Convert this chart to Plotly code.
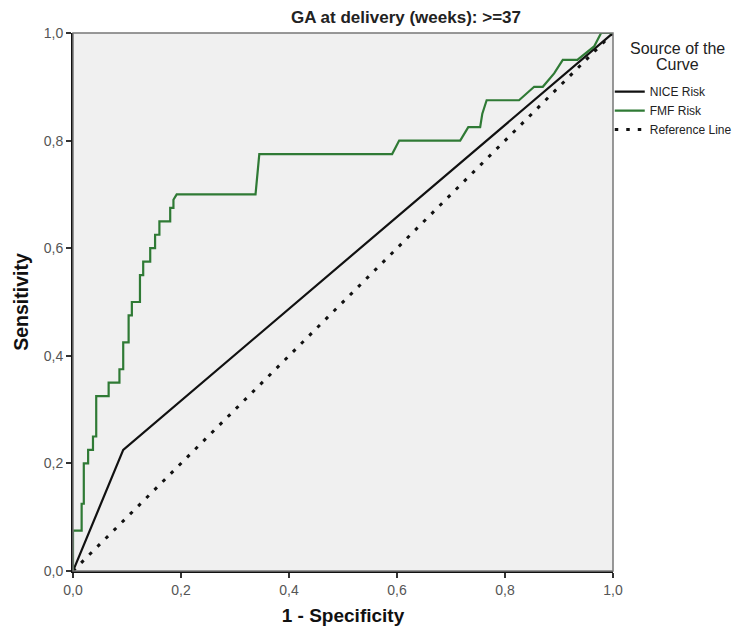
import plotly.graph_objects as go

# ---- data ----
nice_x = [0.0, 0.093, 1.0]
nice_y = [0.0, 0.225, 1.0]

fmf_x = [0.0, 0.0, 0.016, 0.016, 0.020, 0.020, 0.028, 0.028, 0.037, 0.037, 0.043, 0.043,
         0.066, 0.066, 0.086, 0.086, 0.093, 0.093, 0.103, 0.103, 0.109, 0.109, 0.124, 0.124,
         0.130, 0.130, 0.143, 0.143, 0.152, 0.152, 0.160, 0.160, 0.180, 0.180, 0.186, 0.186,
         0.192, 0.338, 0.345, 0.591, 0.604, 0.717, 0.732, 0.754, 0.758, 0.766, 0.826, 0.854,
         0.870, 0.891, 0.907, 0.934, 0.965, 0.978, 1.0]
fmf_y = [0.0, 0.075, 0.075, 0.125, 0.125, 0.200, 0.200, 0.225, 0.225, 0.250, 0.250, 0.325,
         0.325, 0.350, 0.350, 0.375, 0.375, 0.425, 0.425, 0.475, 0.475, 0.500, 0.500, 0.550,
         0.550, 0.575, 0.575, 0.600, 0.600, 0.625, 0.625, 0.650, 0.650, 0.675, 0.675, 0.690,
         0.700, 0.700, 0.775, 0.775, 0.800, 0.800, 0.825, 0.825, 0.850, 0.875, 0.875, 0.900,
         0.900, 0.925, 0.950, 0.950, 0.975, 1.0, 1.0]

ref_x = [0.0, 1.0]
ref_y = [0.0, 1.0]

tick_vals = [0.0, 0.2, 0.4, 0.6, 0.8, 1.0]
tick_text = ["0,0", "0,2", "0,4", "0,6", "0,8", "1,0"]

title_text = "GA at delivery (weeks): >=37"
legend_title_lines = ["Source of the", "Curve"]

FONT = "Liberation Sans, Arial, sans-serif"
GREEN = "#2f7a35"
DOTS = "3.5px,8px"

fig = go.Figure()
fig.add_trace(go.Scatter(x=ref_x, y=ref_y, mode="lines", name="Reference Line",
                         line=dict(color="#111111", width=3, dash=DOTS), showlegend=False))
fig.add_trace(go.Scatter(x=nice_x, y=nice_y, mode="lines", name="NICE Risk",
                         line=dict(color="#111111", width=2.2)))
fig.add_trace(go.Scatter(x=fmf_x, y=fmf_y, mode="lines", name="FMF Risk",
                         line=dict(color=GREEN, width=2.2)))
# legend entry for reference line (ordered last)
fig.add_trace(go.Scatter(x=[None], y=[None], mode="lines", name="Reference Line",
                         line=dict(color="#111111", width=3, dash=DOTS)))

axis_common = dict(range=[0, 1], tickvals=tick_vals, ticktext=tick_text, showgrid=False,
                   zeroline=False, showline=True, linecolor="#111111", linewidth=2,
                   ticks="outside", ticklen=5, tickwidth=1.5, tickcolor="#333333",
                   tickfont=dict(family=FONT, size=14, color="#555555"),
                   fixedrange=True)

fig.update_layout(
    width=750, height=637,
    margin=dict(l=73, r=137, t=33, b=66),
    paper_bgcolor="white",
    plot_bgcolor="#f0f0f0",
    title=dict(text="<b>" + title_text + "</b>", x=406 / 750, xanchor="center",
               y=1 - 17 / 637, yanchor="middle",
               font=dict(family=FONT, size=17, color="#222222")),
    xaxis=dict(**axis_common,
               title=dict(text="<b>1 - Specificity</b>", standoff=12,
                          font=dict(family=FONT, size=19, color="#111111"))),
    yaxis=dict(**axis_common,
               title=dict(text="<b>Sensitivity</b>", standoff=10,
                          font=dict(family=FONT, size=19.5, color="#111111"))),
    legend=dict(x=0.994, xanchor="left", y=0.918, yanchor="top",
                font=dict(family=FONT, size=12, color="#222222"),
                bgcolor="rgba(0,0,0,0)", itemwidth=30, tracegroupgap=0),
    showlegend=True,
)

for txt, py in zip(legend_title_lines, [48, 65]):
    fig.add_annotation(text=txt, xref="paper", yref="paper", x=(677 - 73) / 540,
                       y=(571 - py) / 538, xanchor="center", yanchor="middle",
                       showarrow=False, align="center",
                       font=dict(family=FONT, size=16, color="#222222"))

# frame around the plot area (top/right grey border)
fig.add_shape(type="rect", xref="paper", yref="paper", x0=0, y0=0, x1=1, y1=1,
              line=dict(color="#777777", width=1.5), fillcolor="rgba(0,0,0,0)", layer="above")

fig.write_html("out.html")
